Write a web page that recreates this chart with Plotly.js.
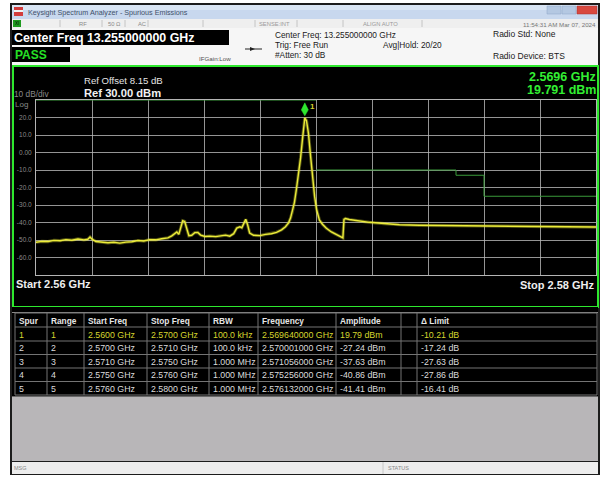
<!DOCTYPE html>
<html><head><meta charset="utf-8">
<script src="https://cdn.plot.ly/plotly-3.0.1.min.js"></script>
<style>html,body{margin:0;padding:0;background:#fff;overflow:hidden}#chart{width:603px;height:479px}</style>
</head><body><div id="chart"></div>
<script>
// ---------------- data ----------------
const traceFreqGHz = [2.56000,2.56021,2.56043,2.56064,2.56086,2.56107,2.56128,2.56150,2.56171,2.56185,2.56193,2.56200,2.56214,2.56235,2.56257,2.56278,2.56299,2.56321,2.56342,2.56364,2.56385,2.56406,2.56428,2.56449,2.56471,2.56485,2.56496,2.56503,2.56510,2.56517,2.56524,2.56531,2.56538,2.56546,2.56556,2.56567,2.56578,2.56588,2.56603,2.56620,2.56642,2.56663,2.56677,2.56692,2.56706,2.56717,2.56728,2.56735,2.56742,2.56749,2.56756,2.56763,2.56777,2.56799,2.56820,2.56841,2.56859,2.56877,2.56891,2.56902,2.56909,2.56916,2.56923,2.56930,2.56938,2.56945,2.56952,2.56957,2.56960,2.56966,2.56973,2.56980,2.56987,2.56995,2.57002,2.57012,2.57023,2.57037,2.57055,2.57073,2.57087,2.57096,2.57100,2.57105,2.57119,2.57155,2.57191,2.57244,2.57298,2.57369,2.57440,2.57512,2.57583,2.57654,2.57725,2.57797,2.57868,2.57939,2.58000];
const traceDbm = [-51.3,-50.8,-50.9,-50.2,-50.4,-49.8,-50.1,-49.4,-49.9,-49.6,-48.3,-49.5,-50.9,-51.2,-51.6,-51.3,-51.8,-51.2,-51.0,-50.3,-50.6,-49.8,-49.9,-49.3,-48.8,-47.6,-46.2,-45.4,-46.8,-43.0,-39.0,-39.4,-43.5,-47.6,-47.3,-45.8,-45.7,-47.2,-48.0,-47.8,-48.1,-47.6,-47.2,-47.8,-46.4,-43.2,-42.5,-43.0,-40.5,-38.2,-41.5,-46.0,-47.3,-47.5,-46.8,-46.4,-45.6,-44.2,-42.4,-40.2,-37.5,-33.5,-28.5,-21.0,-12.5,-3.0,8.0,15.0,19.79,18.2,11.0,-1.0,-13.5,-25.0,-32.5,-38.5,-41.0,-43.3,-45.4,-46.9,-48.0,-48.8,-38.2,-37.7,-38.3,-39.2,-39.9,-40.6,-41.3,-41.6,-41.7,-41.8,-41.9,-42.1,-42.4,-42.5,-42.6,-42.7,-42.6];

const yTickVals = [20,10,0,-10,-20,-30,-40,-50,-60];
const yTickText = ["20.0","10.0","0.00","-10.0","-20.0","-30.0","-40.0","-50.0","-60.0"];

const rangeStartGHz = [2.560,2.570,2.571,2.575,2.576];
const rangeStopGHz  = [2.570,2.571,2.575,2.576,2.580];
const rangeLimitDbm = [30,-10,-10,-13,-25];

const markerFreqGHz = 2.5696;
const markerDbm = 19.791;

const tableHeaders   = ["Spur","Range","Start Freq","Stop Freq","RBW","Frequency","Amplitude","","\u0394 Limit"];
const spurNo         = ["1","2","3","4","5"];
const spurRange      = ["1","2","3","4","5"];
const startFreqText  = ["2.5600 GHz","2.5700 GHz","2.5710 GHz","2.5750 GHz","2.5760 GHz"];
const stopFreqText   = ["2.5700 GHz","2.5710 GHz","2.5750 GHz","2.5760 GHz","2.5800 GHz"];
const rbwText        = ["100.0 kHz","100.0 kHz","1.000 MHz","1.000 MHz","1.000 MHz"];
const spurFreqText   = ["2.569640000 GHz","2.570001000 GHz","2.571056000 GHz","2.575256000 GHz","2.576132000 GHz"];
const amplitudeText  = ["19.79 dBm","-27.24 dBm","-37.63 dBm","-40.86 dBm","-41.41 dBm"];
const blankText      = ["","","","",""];
const deltaLimitText = ["-10.21 dB","-17.24 dB","-27.63 dB","-27.86 dB","-16.41 dB"];

// ---------------- layout helpers ----------------
const W = 603, H = 479;
const FONT = "Liberation Sans, Arial, sans-serif";
const X = p => p / W, Y = p => 1 - p / H;
const shapes = [], ann = [];
function rect(x0, y0, x1, y1, fill, line, lw, layer) {
  shapes.push({type:'rect', xref:'paper', yref:'paper', x0:X(x0), x1:X(x1), y0:Y(y1), y1:Y(y0),
    fillcolor:fill, line:{color:line || fill, width:lw || 0}, layer:layer || 'below'});
}
function hline(x0, x1, y, color, w, layer) {
  shapes.push({type:'line', xref:'paper', yref:'paper', x0:X(x0), x1:X(x1), y0:Y(y), y1:Y(y),
    line:{color:color, width:w || 1}, layer:layer || 'below'});
}
function vline(x, y0, y1, color, w, layer) {
  shapes.push({type:'line', xref:'paper', yref:'paper', x0:X(x), x1:X(x), y0:Y(y0), y1:Y(y1),
    line:{color:color, width:w || 1}, layer:layer || 'below'});
}
function txt(x, y, t, size, color, opts) {
  ann.push(Object.assign({xref:'paper', yref:'paper', x:X(x), y:Y(y), text:t, showarrow:false,
    xanchor:'left', yanchor:'middle', borderpad:0,
    font:{family:FONT, size:size, color:color}}, opts || {}));
}

// window frame
rect(10, 3, 600, 475, '#1c1c1c');
// title bar
rect(12, 5, 598, 19, '#c8d8ee');
rect(12, 5, 598, 10, '#d9e5f4');
rect(14, 7, 23, 16, '#d23c3c');
rect(14, 10, 23, 12, '#f2f2f2');
txt(27, 12, 'Keysight Spectrum Analyzer - Spurious Emissions', 7.2, '#40506a');
rect(547, 6, 561, 14, '#b4c8e2', '#8da4c4', 0.5);
rect(562, 6, 576, 14, '#b4c8e2', '#8da4c4', 0.5);
rect(577, 6, 597, 14, '#d8483f', '#a33', 0.5);
// toolbar row
rect(12, 19, 598, 28, '#efefef');
rect(13, 20, 21, 27, '#1f9a1f');
txt(17, 23.5, 'XI', 4.5, '#0a0a0a', {xanchor:'center'});
[60, 102, 125, 148, 203, 255, 297, 343, 422].forEach(x => vline(x, 20, 27, '#c4c4c4', 1));
txt(78, 24, 'RF', 5.8, '#8a8a8a');
txt(107, 24, '50 \u03A9', 5.8, '#8a8a8a');
txt(137, 24, 'AC', 5.8, '#8a8a8a');
txt(258, 24, 'SENSE:INT', 5.8, '#9a9a9a');
txt(362, 24, 'ALIGN AUTO', 5.8, '#9a9a9a');
txt(597, 24, '11:54:31 AM Mar 07, 2024', 6.2, '#777', {xanchor:'right'});
// info panel
rect(12, 28, 598, 65, '#f6f6f6');
rect(12, 30, 229, 45, '#000000');
txt(13, 38, '<b>Center Freq 13.255000000 GHz</b>', 12.4, '#ffffff');
rect(12, 47, 70, 62, '#000000');
txt(14, 55, '<b>PASS</b>', 12, '#26e026');
txt(198, 58, 'IFGain:Low', 6.2, '#505050');
hline(245, 262, 49, '#222', 1, 'above');
shapes.push({type:'path', xref:'paper', yref:'paper',
  path:`M${X(250)},${Y(47)} L${X(255)},${Y(49)} L${X(250)},${Y(51)} Z`, fillcolor:'#222', line:{width:0}});
txt(274, 35, 'Center Freq: 13.255000000 GHz', 8.3, '#1a1a1a');
txt(274, 44.5, 'Trig: Free Run', 8.3, '#1a1a1a');
txt(382, 45, 'Avg|Hold: 20/20', 8.3, '#1a1a1a');
txt(274, 55, '#Atten: 30 dB', 8.3, '#1a1a1a');
txt(492, 34, 'Radio Std: None', 8.5, '#1a1a1a');
txt(492, 56, 'Radio Device: BTS', 8.5, '#1a1a1a');
// plot panel
rect(13, 66, 598, 307, '#000000', '#2ee82e', 2);
txt(13, 94, '10 dB/div', 8.3, '#8a8a8a');
txt(14, 104, 'Log', 8, '#8a8a8a');
txt(83, 81, 'Ref Offset 8.15 dB', 9.6, '#e4e4e4');
txt(83, 93, '<b>Ref 30.00 dBm</b>', 11.2, '#f2f2f2');
txt(597, 77, '<b>' + markerFreqGHz.toFixed(4) + ' GHz</b>', 12.5, '#33ee33', {xanchor:'right'});
txt(597, 90, '<b>' + markerDbm.toFixed(3) + ' dBm</b>', 12.5, '#33ee33', {xanchor:'right'});
txt(15, 284, '<b>Start ' + rangeStartGHz[0].toFixed(2) + ' GHz</b>', 11, '#eeeeee');
txt(595, 285, '<b>Stop ' + rangeStopGHz[rangeStopGHz.length - 1].toFixed(2) + ' GHz</b>', 11, '#eeeeee', {xanchor:'right'});

// table
rect(12, 307, 598, 396, '#000000');
hline(12, 598, 312.5, '#8a8a8a', 1);
const colEdges = [15, 47, 84, 147, 209, 258, 336, 401, 417, 597];
const rowEdges = [313, 327, 341, 354.5, 368, 381.5, 395];
rowEdges.forEach(y => hline(colEdges[0], colEdges[colEdges.length - 1], y, '#747474', 1));
colEdges.forEach(x => vline(x, rowEdges[0], rowEdges[rowEdges.length - 1], '#747474', 1));
const columns = [spurNo, spurRange, startFreqText, stopFreqText, rbwText, spurFreqText, amplitudeText, blankText, deltaLimitText];
tableHeaders.forEach((h, c) => {
  txt(colEdges[c] + 3, (rowEdges[0] + rowEdges[1]) / 2 + 0.5, '<b>' + h + '</b>', 8.3, '#e6e6e6');
});
columns.forEach((col, c) => {
  col.forEach((v, r) => {
    if (v === '') return;
    txt(colEdges[c] + 2.5, (rowEdges[r + 1] + rowEdges[r + 2]) / 2 + 0.5, v, 8.8,
      r === 0 ? '#d6d62e' : '#dcdcdc');
  });
});
// lower gray area + status bar
rect(12, 396, 598, 461, '#b8b6b8');
hline(12, 598, 396.5, '#6a6a6a', 1);
rect(12, 462, 598, 474, '#ededed');
vline(383, 462, 474, '#c8c8c8', 1);
txt(13, 468, 'MSG', 5.5, '#8a8a8a');
txt(387, 468, 'STATUS', 5.5, '#8a8a8a');

// marker glyph (anchored to the marker data point, sized in pixels)
shapes.push({type:'path', xref:'x', yref:'y', xsizemode:'pixel', ysizemode:'pixel',
  xanchor:markerFreqGHz, yanchor:markerDbm, path:'M0,2 L3.5,8 L0,15 L-3.5,8 Z',
  fillcolor:'#2ee82e', line:{color:'#2ee82e', width:0.5}, layer:'above'});
ann.push({xref:'x', yref:'y', x:markerFreqGHz, y:markerDbm, text:'<b>1</b>', showarrow:false,
  xshift:8, yshift:11, font:{family:FONT, size:8, color:'#d6d62e'}});

// limit line from ranges (break where the limit sits at the reference level)
const limX = [], limY = [];
rangeStartGHz.forEach((s, i) => {
  if (i > 0 && Math.abs(rangeLimitDbm[i] - rangeLimitDbm[i - 1]) > 20) { limX.push(null); limY.push(null); }
  limX.push(s, rangeStopGHz[i]); limY.push(rangeLimitDbm[i], rangeLimitDbm[i]);
});

const gridColor = 'rgba(185,185,185,0.8)';
const data = [
  {type:'scatter', mode:'lines', x:limX, y:limY, connectgaps:false,
   line:{color:'#3a9a3a', width:1}, hoverinfo:'skip'},
  {type:'scatter', mode:'lines', x:traceFreqGHz, y:traceDbm,
   line:{color:'rgba(230,230,50,0.35)', width:3.2}, hoverinfo:'skip'},
  {type:'scatter', mode:'lines', x:traceFreqGHz, y:traceDbm,
   line:{color:'#ecec3a', width:1.4}, hoverinfo:'skip'}
];

const layout = {
  width:W, height:H, margin:{l:0, r:0, t:0, b:0},
  paper_bgcolor:'#ffffff', plot_bgcolor:'#000000', showlegend:false,
  xaxis:{domain:[X(36), X(596)], range:[rangeStartGHz[0], rangeStopGHz[rangeStopGHz.length - 1]],
    tick0:rangeStartGHz[0], dtick:0.002, showgrid:true, gridcolor:gridColor, gridwidth:1,
    showticklabels:false, ticks:'', zeroline:false, showline:true, mirror:true,
    linecolor:'#b4b4b4', linewidth:1, fixedrange:true},
  yaxis:{domain:[Y(275), Y(100)], range:[-70, 30], tickvals:yTickVals, ticktext:yTickText,
    showgrid:true, gridcolor:gridColor, gridwidth:1, ticks:'', zeroline:false,
    showline:true, mirror:true, linecolor:'#b4b4b4', linewidth:1,
    tickfont:{family:FONT, size:6.5, color:'#8a8a8a'}, ticklabelstandoff:2, fixedrange:true},
  shapes:shapes, annotations:ann
};
Plotly.newPlot('chart', data, layout, {displayModeBar:false, staticPlot:true});
</script></body></html>
